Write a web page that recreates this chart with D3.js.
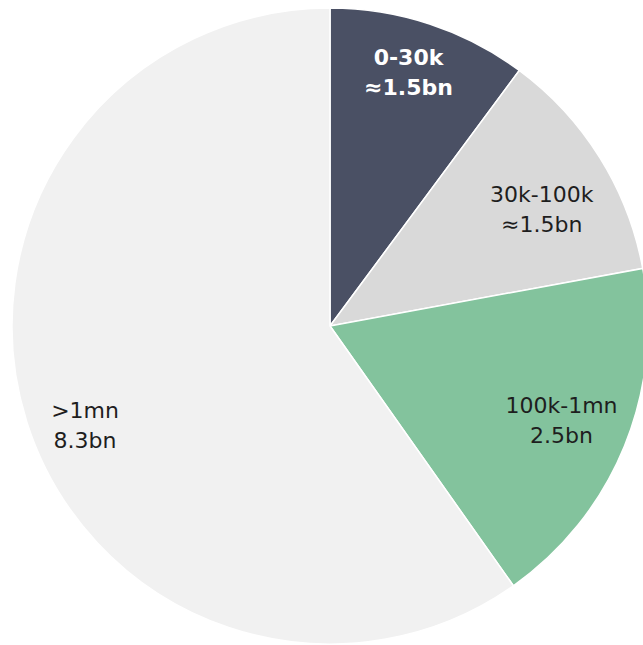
<!DOCTYPE html>
<html>
<head>
<meta charset="utf-8">
<script src="https://cdn.jsdelivr.net/npm/d3@7"></script>
<style>
  html, body { margin: 0; padding: 0; background: #fff; overflow: hidden; }
  svg text { font-family: "DejaVu Sans", sans-serif; font-size: 22px; }
</style>
</head>
<body>
<svg id="chart" width="643" height="645"></svg>
<script>
// ------- Data -------
const bands = ["0-30k", "30k-100k", "100k-1mn", ">1mn"]
const values = [1.4, 1.65, 2.5, 8.25]
const valueLabels = ["≈1.5bn", "≈1.5bn", "2.5bn", "8.3bn"]

// ------- Styles / layout -------
const colors = ["#4a5064", "#d9d9d9", "#83c39d", "#f1f1f1"]
const textColors = ["#ffffff", "#1e1e1e", "#1e1e1e", "#1e1e1e"]
const boldLabels = [true, false, false, false]
// where the label sits inside each slice: radius and fraction of the slice's sweep
const labelRadius = [266, 242, 250, 264]
const labelSweep = [0.47, 0.57, 0.5, 0.48]

const cx = 330, cy = 326, radius = 318

let svg = d3.select("#chart")
let g = svg.append("g").attr("transform", `translate(${cx},${cy})`)

let data = bands.map((b, i) => ({band: b, value: values[i], label: valueLabels[i], i: i}))

let pie = d3.pie().sort(null).value(d => d.value)
let arcs = pie(data)

let arc = d3.arc().innerRadius(0).outerRadius(radius)

function labelPos(d){
  let i = d.data.i
  let a = d.startAngle + labelSweep[i] * (d.endAngle - d.startAngle)
  let r = labelRadius[i]
  return [r * Math.sin(a), -r * Math.cos(a)]
}

g.selectAll("path.slice")
  .data(arcs)
  .enter()
  .append("path")
  .attr("class", "slice")
  .attr("d", arc)
  .attr("fill", d => colors[d.data.i])
  .attr("stroke", "#fff")
  .attr("stroke-width", 1.5)

let labels = g.selectAll("text.label")
  .data(arcs)
  .enter()
  .append("text")
  .attr("class", "label")
  .attr("text-anchor", "middle")
  .attr("fill", d => textColors[d.data.i])
  .attr("font-weight", d => boldLabels[d.data.i] ? "bold" : "normal")
  .attr("transform", d => `translate(${labelPos(d)})`)

labels.append("tspan")
  .attr("x", 0)
  .attr("y", -7)
  .text(d => d.data.band)

labels.append("tspan")
  .attr("x", 0)
  .attr("y", 23)
  .text(d => d.data.label)
</script>
</body>
</html>
